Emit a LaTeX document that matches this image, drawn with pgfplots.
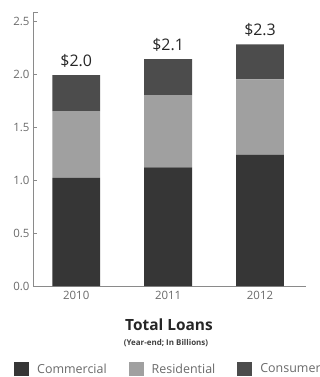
\documentclass[border=0pt]{standalone}
\usepackage{fontspec}
\setmainfont{Open Sans}
\usepackage{pgfplots}
\pgfplotsset{compat=1.18}
\definecolor{comm}{HTML}{363636}
\definecolor{resi}{HTML}{A0A0A0}
\definecolor{cons}{HTML}{4C4C4C}
\definecolor{axgray}{HTML}{8A8A8A}
\definecolor{labgray}{HTML}{6A6A6A}
\begin{document}
\begin{tikzpicture}
\useasboundingbox (0,0) rectangle (320bp,377bp);
\begin{axis}[
  at={(33bp,91bp)}, anchor=south west,
  width=273bp, height=274bp, scale only axis,
  xmin=-0.47, xmax=2.5, ymin=0, ymax=2.585,
  axis x line*=bottom, axis y line*=left,
  axis line style={axgray, line width=0.5pt},
  ybar stacked, bar width=0.52,
  xtick={0,1,2}, xticklabels={2010,2011,2012},
  extra x ticks={0.5,1.5,2.5}, extra x tick labels={},
  extra x tick style={major tick length=5bp, tick style={axgray, line width=0.5pt}},
  ytick={0,0.5,1,1.5,2,2.5},
  extra y ticks={2.585}, extra y tick labels={},
  extra y tick style={major tick length=5bp, tick style={axgray, line width=0.5pt}},
  yticklabel style={/pgf/number format/fixed, /pgf/number format/fixed zerofill, /pgf/number format/precision=1},
  /pgf/number format/assume math mode=true,
  tick align=inside,
  x tick style={draw=none},
  y tick style={axgray, line width=0.5pt},
  major tick length=4bp,
  tick label style={font=\fontsize{11.5}{12}\selectfont, text=labgray},
  xticklabel style={yshift=-2bp},
  legend style={at={(0.496,-0.303)}, anchor=center, draw=none, fill=none,
    font=\fontsize{12.5}{13}\selectfont\color{labgray}, legend columns=3,
    /tikz/every odd column/.append style={column sep=6bp},
    /tikz/every even column/.append style={column sep=20bp}},
  legend image code/.code={\fill[#1] (0bp,-7bp) rectangle (15bp,7bp);},
  clip=false,
]
\addplot[fill=comm, draw=none] coordinates {(0,1.02) (1,1.12) (2,1.24)};
\addplot[fill=resi, draw=none] coordinates {(0,0.63) (1,0.68) (2,0.71)};
\addplot[fill=cons, draw=none] coordinates {(0,0.34) (1,0.34) (2,0.33)};
\legend{Commercial, Residential, Consumer}
\node[above, font=\fontsize{16}{16}\selectfont, text=black!85, yshift=4bp] at (axis cs:0,1.99) {\$2.0};
\node[above, font=\fontsize{16}{16}\selectfont, text=black!85, yshift=4bp] at (axis cs:1,2.14) {\$2.1};
\node[above, font=\fontsize{16}{16}\selectfont, text=black!85, yshift=4bp] at (axis cs:2,2.28) {\$2.3};
\end{axis}
\node[font=\bfseries\fontsize{15.5}{16}\selectfont, text=black!85] at (169bp,52bp) {Total Loans};
\node[font=\bfseries\fontsize{8}{8}\selectfont, text=black!75] at (166bp,34bp) {(Year-end; In Billions)};
\end{tikzpicture}
\end{document}
